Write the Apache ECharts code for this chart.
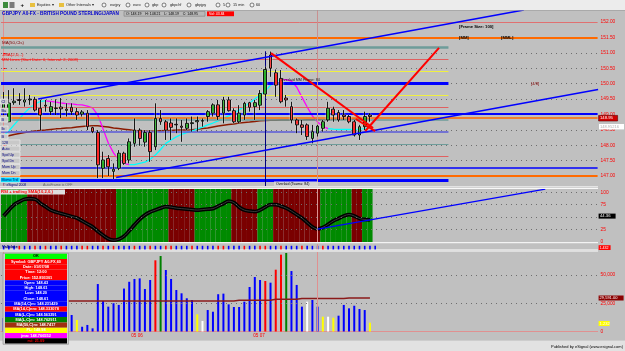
<!DOCTYPE html>
<html><head><meta charset="utf-8">
<script src="https://cdn.jsdelivr.net/npm/echarts@6/dist/echarts.min.js"></script>
<style>html,body{margin:0;padding:0;background:#c0c0c0;overflow:hidden}#c{width:625px;height:351px}</style>
</head><body><div id="c"></div><script>
// ---------- DATA ----------
const candleOpen = [149.14,148.76,149.38,149.48,149.40,149.47,149.49,149.20,149.30,149.09,
 149.19,149.24,149.17,149.23,149.09,149.01,149.04,148.57,148.41,147.25,
 147.57,147.15,147.25,147.74,147.52,148.06,148.49,148.10,148.41,147.95,
 148.87,148.76,148.72,148.68,148.62,148.55,148.70,148.76,148.78,148.93,
 149.04,149.31,149.04,149.47,149.12,148.76,148.98,149.38,149.25,149.30,
 149.66,150.93,150.35,150.17,149.53,149.25,148.82,148.66,148.66,148.22,
 148.39,148.55,148.82,149.17,149.06,148.98,148.93,148.76,148.33,148.60,148.98];
const candleClose = [149.47,149.37,149.43,149.45,149.47,149.50,149.14,148.98,149.27,149.25,
 149.21,149.18,149.13,149.09,148.98,149.08,148.60,148.44,147.36,147.52,
 147.30,147.22,147.74,147.41,148.11,148.49,148.22,148.41,147.79,148.87,
 148.76,148.49,148.58,148.66,148.58,148.71,148.73,148.80,148.80,149.09,
 149.31,148.93,149.47,149.12,148.76,149.04,149.36,149.23,149.38,149.68,
 150.46,150.50,149.95,149.41,149.47,148.82,148.66,148.58,148.28,148.44,
 148.62,148.76,149.20,148.98,148.82,148.93,148.76,148.33,148.60,148.93,148.93];
const candleLow = [148.98,148.75,149.31,149.31,149.25,149.31,149.09,148.49,149.09,148.98,
 148.98,148.88,148.93,148.98,148.82,148.93,148.49,148.39,146.93,146.93,
 147.00,146.90,147.19,147.36,147.41,147.95,147.98,147.95,147.46,147.84,
 148.66,148.17,148.17,148.39,148.11,148.49,148.44,148.44,148.60,148.76,
 148.93,148.82,148.71,149.09,148.71,148.71,148.82,149.09,148.82,149.14,
 149.57,150.22,149.57,149.36,149.25,148.71,148.39,148.33,148.17,148.06,
 148.28,148.44,148.76,148.76,148.76,148.82,148.71,148.28,148.17,148.49,148.76];
const candleHigh = [149.73,149.79,149.85,149.69,149.85,149.63,149.57,149.47,149.47,149.41,
 149.49,149.53,149.36,149.36,149.21,149.14,149.14,148.60,148.49,147.79,
 147.68,147.41,147.84,147.79,148.22,148.87,148.55,148.49,148.49,149.36,
 149.14,148.82,148.87,148.87,148.82,148.87,148.93,148.93,148.87,149.14,
 149.36,149.47,149.57,149.57,149.20,149.30,149.41,149.41,149.47,149.79,
 150.55,151.04,150.46,150.44,149.63,149.41,148.87,148.82,148.71,148.66,
 148.66,148.82,149.41,149.25,149.14,149.14,148.98,148.82,148.66,149.09,149.04];
const ma50 = [148.28,148.31,148.35,148.38,148.41,148.44,148.46,148.48,148.49,148.51,
 148.53,148.54,148.56,148.57,148.59,148.61,148.62,148.63,148.63,148.61,
 148.59,148.56,148.54,148.52,148.50,148.48,148.46,148.45,148.45,148.46,
 148.47,148.48,148.48,148.49,148.49,148.49,148.50,148.52,148.54,148.56,
 148.59,148.62,148.65,148.67,148.69,148.72,148.74,148.75,148.77,148.79,
 148.80,148.81,148.81,148.82,148.82,148.82,148.82,148.82,148.83,148.83,
 148.83,148.83,148.83,148.84,148.84,148.84,148.84,148.84,148.84,148.85,148.85];
const jma = [148.30,148.46,148.66,148.85,149.05,149.21,149.34,149.42,149.44,149.42,
 149.40,149.37,149.35,149.34,149.32,149.31,149.27,149.21,148.98,148.53,
 148.07,147.75,147.52,147.41,147.37,147.37,147.41,147.45,147.54,147.68,
 147.86,148.06,148.17,148.27,148.35,148.41,148.46,148.53,148.59,148.66,
 148.72,148.79,148.87,148.95,149.05,149.14,149.26,149.37,149.50,149.63,
 149.76,149.95,150.08,150.13,150.13,150.08,149.89,149.56,149.24,148.95,
 148.75,148.61,148.54,148.52,148.51,148.51,148.51,148.51,148.52,148.54,148.57];
const jmaTurns = [8, 24, 53, 62];
const rsi = [52,64,75,81,86,87,86,78,71,64,
 60,57,54,51,48,42,36,30,21,13,
 6,3,5,11,22,34,45,54,60,64,
 68,71,70,68,67,66,65,64,65,66,
 67,72,77,82,79,70,64,62,61,64,
 70,75,75,72,68,62,55,48,39,30,
 26,29,35,42,47,52,55,52,47,45,44];
const rsiBand = 'GGGGGRRRRRRRRRRRRRRRRRGGGGGGGGGGRRRRRGGGGGGGRRRRRGGGRRRRRRRRRGGGGGGRRGG'.split('');
const volume = [12000,9000,14000,8000,11000,9000,16000,21000,12000,10000,
 9000,13000,11000,14600,10200,4200,5800,2800,42000,27000,
 22000,25000,23500,38000,44000,46500,47000,37600,45600,63000,
 66800,54400,46500,36700,33800,29400,27900,15200,9300,19000,
 17500,33000,33500,24000,21700,21700,26400,39400,48200,45600,
 44700,43200,54700,68000,69500,53500,41200,22000,26400,27900,
 22000,13100,13100,12200,14000,23500,20500,22800,19900,19000,7800];
const volumeColorKey = 'bbbbbbbbbbbbbbybbbbbbbbbbbbbbrgbbbbbbywbbbbbbbbbbbrbrrgbbbwbbywybbbbbby'.split('');
const volumeMA = [27000,27000,27000,27000,27000,27000,27000,27000,27000,27000,
 27000,27000,27000,27000,27000,27000,27000,27000,27000,27000,
 27000,27000,27000,27000,27000,27000,27000,27000,27000,27000,
 27000,27000,27000,27000,27000,27000,27000,27000,27000,27000,
 27000,27000,27000,27000,27000,27700,27700,27700,27700,27700,
 27700,27700,28500,28500,28500,28500,28500,29200,29200,29200,
 29200,29200,29200,29200,29200,29200,29600,29600,29600,29600,29600];
const validateKey = 'bbbrbbrbrbbrbbbrrbbrbrbbbrbbrbbrrbbbrbbbbrrbbbrbbrrbbrbbbrbbbrbbbbbbbbbb'.split('');
const mmLevels = [151.171875,150.78125,150.390625,150,149.609375,149.21875,148.828125,148.4375,148.046875,147.65625,147.265625,146.875];
const mmNames = ['+3/8','+2/8','+1/8','8/8','7/8','6/8','5/8','4/8','3/8','2/8','1/8','0/8'];
const mmValueText = ['151.171875','150.78125','150.390625','150.00','149.609375','149.21875','148.828125','148.4375','148.046875','147.65625','147.265625','146.875'];
const fullLevels = [152, 151.5, 149.02, 148.90, 147.265625, 147];
const priceTicks = [147,147.5,148,148.5,149,149.5,150,150.5,151,151.5,152];
const rsiTicks = [0,25,50,75,100];
const volTicks = [0,25000,50000];
const dateTickPos = [25.5, 48.8];
const dateTickText = ['05 06','05 07'];
// trendlines: [candle index, price]
const upperChannel = [[6.6,149.50],[99.4,152.39]];
const lowerChannel = [[21.5,146.95],[113.6,149.81]];
const redLineA = [[51.1,150.99],[70.6,148.56]];
const redLineB = [[67.3,148.85],[71.0,148.46]];
const redLineC = [[69.1,148.46],[83.2,151.16]];
const rsiTrend = [[60,25.5],[103.5,106.5]];
const hiLoMarks = [[51,151.0,'H'],[22,147.02,'L']];
const markerBar = 50, cursorBar = 60;

// ---------- STYLE / LAYOUT ----------
const FONT = '"Liberation Sans", Arial, sans-serif';
const SLOTS = 114;
const cats = Array.from({length: SLOTS}, (_, i) => String(i));
const GL = 1, GW = 596.6;
const mmColors = ['#6e9c9a','#e06060','#f0f040','#0000ff','#f0f040','#e06060','#6e9c9a','#5a5ad8','#6e9c9a','#e06060','#f0f040','#0000ff'];
const mmWidths = [2.5,1,1,3,1,1,1.5,1.5,1.2,1,1,3];
const fullColors = ['#e07070','#ff6a00','#0000ff','#ff6a00','#0000ff','#ff6a00'];
const fullWidths = [1,2,2,1.5,1.5,2];
const volPalette = {b:'#0000ff', y:'#ffff00', r:'#ff0000', g:'#008000', w:'#ffffff'};

const ohlc = candleOpen.map((o, i) => [o, candleClose[i], candleLow[i], candleHigh[i]]);
const seg = i => jmaTurns.filter(t => t <= i).length;
const jmaUp = jma.map((v, i) => (seg(i) % 2 === 0 || jmaTurns.includes(i)) ? v : null);
const jmaDown = jma.map((v, i) => (seg(i) % 2 === 1 || jmaTurns.includes(i)) ? v : null);

const noML = {symbol:['none','none'], silent:true, label:{show:false}, animation:false};
const dotted = {type:[1,4], color:'#6e6e6e', width:1};

const yLabel = (vals, fmt) => ({
  show:true, position:'right',
  axisLine:{show:true, lineStyle:{color:'#e09090'}},
  axisTick:{show:true, customValues: vals, length:2, lineStyle:{color:'#ff0000'}},
  axisLabel:{show:true, customValues: vals, formatter: fmt, color:'#ff0000', fontSize:4.8, fontFamily:FONT, margin:3},
  splitLine:{show:false}
});

const option = {
  animation:false,
  backgroundColor:'#c0c0c0',
  grid:[
    {left:GL, top:10, width:GW, height:176},
    {left:GL, top:189, width:GW, height:53},
    {left:GL, top:244, width:GW, height:6},
    {left:GL, top:252, width:GW, height:79.5}
  ],
  xAxis:[
    {type:'category', gridIndex:0, position:'bottom', data:cats, show:false},
    {type:'category', gridIndex:1, position:'bottom', data:cats, show:false},
    {type:'category', gridIndex:2, position:'bottom', data:cats, show:false},
    {type:'category', gridIndex:3, position:'top', data:cats, show:false},
    {type:'value', gridIndex:0, position:'top', min:-0.5, max:SLOTS-0.5, show:false},
    {type:'value', gridIndex:1, position:'top', min:-0.5, max:SLOTS-0.5, show:false},
    {type:'value', gridIndex:2, position:'top', min:-0.5, max:SLOTS-0.5, show:false},
    {type:'value', gridIndex:3, position:'bottom', min:-0.5, max:SLOTS-0.5, show:true,
      axisLine:{show:true, lineStyle:{color:'#e09090'}}, axisTick:{show:false}, splitLine:{show:false},
      axisLabel:{customValues: dateTickPos, color:'#ff0000', fontSize:4.6, fontFamily:FONT, margin:2,
        formatter: v => { let k = 0; dateTickPos.forEach((p, j) => { if (Math.abs(p - v) < Math.abs(dateTickPos[k] - v)) k = j; }); return dateTickText[k]; }}}
  ],
  yAxis:[
    Object.assign({type:'value', gridIndex:0, min:146.675, max:152.39}, yLabel(priceTicks, v => v.toFixed(2))),
    Object.assign({type:'value', gridIndex:1, min:-0.6, max:106.7}, yLabel(rsiTicks, v => String(v))),
    {type:'value', gridIndex:1, position:'left', min:0, max:1, show:false},
    {type:'value', gridIndex:2, min:0, max:1, show:false},
    Object.assign({type:'value', gridIndex:3, min:0, max:70350}, yLabel(volTicks, v => v.toLocaleString('en-US')))
  ],
  series:[
    {type:'line', xAxisIndex:4, yAxisIndex:0, data:[], z:1,
      markLine:Object.assign({lineStyle:dotted, data: priceTicks.map(v => ({yAxis:v}))}, noML)},
    {type:'line', xAxisIndex:4, yAxisIndex:0, data:[], z:2,
      markLine:Object.assign({data: mmLevels.map((v, i) => [
        {coord:[-0.5, v], lineStyle:{color:mmColors[i], width:mmWidths[i], type:'solid'}}, {coord:[85, v]}])}, noML)},
    {type:'line', xAxisIndex:4, yAxisIndex:0, data:[], z:2,
      markLine:Object.assign({data: fullLevels.map((v, i) => ({yAxis:v, lineStyle:{color:fullColors[i], width:fullWidths[i], type:'solid'}}))}, noML)},
    {type:'line', xAxisIndex:4, yAxisIndex:0, data:[], z:3,
      markLine:Object.assign({data:[
        {xAxis:cursorBar, lineStyle:{color:'#c89090', width:1, type:'solid'}},
        [{coord:[markerBar, 151.05], lineStyle:{color:'#000080', width:1, type:'solid'}}, {coord:[markerBar, 146.675]}]
      ]}, noML)},
    {type:'line', xAxisIndex:0, yAxisIndex:0, data:ma50, symbol:'none', z:3, lineStyle:{color:'#8b1a00', width:1.5}},
    {type:'line', xAxisIndex:0, yAxisIndex:0, data:jmaUp, symbol:'none', z:3, lineStyle:{color:'#00ffff', width:1.3}},
    {type:'line', xAxisIndex:0, yAxisIndex:0, data:jmaDown, symbol:'none', z:3, lineStyle:{color:'#ff00ff', width:1.3}},
    {type:'candlestick', xAxisIndex:0, yAxisIndex:0, data:ohlc, barWidth:3.2, z:5,
      itemStyle:{color:'#00a000', color0:'#ff0000', borderColor:'#000000', borderColor0:'#000000', borderWidth:0.9,
        shadowColor:'rgba(255,255,255,0.9)', shadowBlur:1.5}},
    {type:'line', xAxisIndex:4, yAxisIndex:0, data:upperChannel, symbol:'none', z:6, lineStyle:{color:'#0000ff', width:1.6}},
    {type:'line', xAxisIndex:4, yAxisIndex:0, data:lowerChannel, symbol:'none', z:6, lineStyle:{color:'#0000ff', width:1.6}},
    {type:'line', xAxisIndex:4, yAxisIndex:0, data:redLineA, symbol:'none', z:6, lineStyle:{color:'#ff0000', width:2}},
    {type:'line', xAxisIndex:4, yAxisIndex:0, data:redLineB, symbol:'none', z:6, lineStyle:{color:'#ff0000', width:2}},
    {type:'line', xAxisIndex:4, yAxisIndex:0, data:redLineC, symbol:'none', z:6, lineStyle:{color:'#ff0000', width:2}},
    {type:'scatter', xAxisIndex:4, yAxisIndex:0, symbolSize:1, itemStyle:{opacity:0}, z:7,
      data: mmLevels.map(v => [87.1, v]),
      label:{show:true, position:'right', distance:0, formatter: p => mmNames[p.dataIndex], color:'#101010', fontSize:4.4, fontFamily:FONT, fontWeight:'bold'}},
    {type:'scatter', xAxisIndex:4, yAxisIndex:0, symbolSize:1, itemStyle:{opacity:0}, z:7,
      data: mmLevels.map(v => [92.1, v]),
      label:{show:true, position:'right', distance:0, formatter: p => mmValueText[p.dataIndex], color:'#2a2a80', fontSize:4.4, fontFamily:FONT}},
    {type:'scatter', xAxisIndex:4, yAxisIndex:0, symbolSize:1, itemStyle:{opacity:0}, z:7,
      data: hiLoMarks.map(m => [m[0], m[1]]),
      label:{show:true, position:'inside', formatter: p => hiLoMarks[p.dataIndex][2], color:'#000', fontSize:4.6, fontFamily:FONT, fontWeight:'bold'}},
    {type:'bar', xAxisIndex:1, yAxisIndex:2, barCategoryGap:'0%', barWidth:'100%', z:1,
      data: rsiBand.map(c => ({value:1, itemStyle:{color: c === 'G' ? '#008a00' : '#7a0000'}}))},
    {type:'line', xAxisIndex:5, yAxisIndex:1, data:[], z:2,
      markLine:Object.assign({lineStyle:dotted, data:[25,50,75,100].map(v => ({yAxis:v}))}, noML)},
    {type:'line', xAxisIndex:5, yAxisIndex:1, data:[], z:3,
      markLine:Object.assign({data:[{xAxis:cursorBar, lineStyle:{color:'#e09090', width:1, type:'solid'}}]}, noML)},
    {type:'line', xAxisIndex:1, yAxisIndex:1, data:rsi, symbol:'none', smooth:0.4, z:4, lineStyle:{color:'#000000', width:3.8}},
    {type:'line', xAxisIndex:1, yAxisIndex:1, data:rsi, symbol:'none', smooth:0.4, z:5, lineStyle:{color:'#5a5a5a', width:0.6}},
    {type:'line', xAxisIndex:5, yAxisIndex:1, data:rsiTrend, symbol:'none', z:6, lineStyle:{color:'#0000ff', width:1.3}},
    {type:'bar', xAxisIndex:2, yAxisIndex:3, barWidth:1.6, z:3,
      data: validateKey.map(c => ({value:0.7, itemStyle:{color: c === 'r' ? '#ff0000' : '#0000ff'}}))},
    {type:'line', xAxisIndex:6, yAxisIndex:3, data:[], z:3,
      markLine:Object.assign({data:[{xAxis:cursorBar, lineStyle:{color:'#e09090', width:1, type:'solid'}}]}, noML)},
    {type:'line', xAxisIndex:7, yAxisIndex:4, data:[], z:1,
      markLine:Object.assign({lineStyle:dotted, data:[25000,50000].map(v => ({yAxis:v}))}, noML)},
    {type:'line', xAxisIndex:7, yAxisIndex:4, data:[], z:2,
      markLine:Object.assign({data:[{xAxis:cursorBar, lineStyle:{color:'#e09090', width:1, type:'solid'}}]}, noML)},
    {type:'bar', xAxisIndex:3, yAxisIndex:4, barWidth:2, z:3,
      data: volume.map((v, i) => ({value:v, itemStyle:{color: volPalette[volumeColorKey[i]]}}))},
    {type:'line', xAxisIndex:3, yAxisIndex:4, data:volumeMA, symbol:'none', z:4, lineStyle:{color:'#8b1a1a', width:1.4}}
  ],
  graphic:[]
};

// ---------- OVERLAY TEXT / UI ----------
function T(x, y, text, fill, size, weight, align, z) {
  return {type:'text', x:x, y:y, z:z || 60, silent:true,
    style:{text:text, fill:fill, font:(weight || 'normal') + ' ' + size + 'px ' + FONT, textAlign:align || 'left', textVerticalAlign:'middle', verticalAlign:'middle'}};
}
function R(x, y, w, h, fill, stroke, z) {
  return {type:'rect', z:z || 50, silent:true, shape:{x:x, y:y, width:w, height:h}, style:{fill:fill, stroke:stroke || null, lineWidth:stroke ? 0.6 : 0}};
}
function L(x1, y1, x2, y2, stroke, w, z) {
  return {type:'line', z:z || 40, silent:true, shape:{x1:x1, y1:y1, x2:x2, y2:y2}, style:{stroke:stroke, lineWidth:w || 1}};
}
function C(cx, cy) {
  return {type:'circle', z:55, silent:true, shape:{cx:cx, cy:cy, r:2}, style:{fill:'#f4f4f4', stroke:'#303030', lineWidth:0.6}};
}
const g = [];
g.push(R(0,0,625,10,'#ececec'), L(0,10.3,625,10.3,'#9c9c9c',0.8));
g.push(R(3,2,5,6,'#3c8a3c'), R(9.5,2,5,6,'#7a7a7a'), T(20.5,5,'+','#000',6,'bold'));
g.push(R(30,3,5,4,'#e8c040'), T(37,5,'Equities ▾','#202020',3.8));
g.push(R(59,3,5,4,'#e8c040'), T(66,5,'Other Intervals ▾','#202020',3.8));
[[104,110,'eurjpy'],[128,133,'euro'],[147,152,'gbp'],[164,170,'gbpchf'],[189,195,'gbpjpy'],[218,223,'5'],[228,233,'15 min'],[252,256,'60']]
  .forEach(t => { g.push(C(t[0],5), T(t[1],5,t[2],'#202020',3.8)); });
g.push(T(2,13.8,'GBPJPY A0-FX - BRITISH POUND STERLING/JAPAN','#0000cc',4.7,'bold'));
g.push(R(124,11.4,81,4.8,'#b8b8b8','#7c7c7c'), T(126,13.8,'O: 148.19    H: 148.21    L: 148.19    C: 148.95','#000',3.5));
g.push(R(207,11.4,27,4.8,'#ff0000'), T(209,13.8,'Vol: 43.84','#ffffff',3.5));
g.push(T(2,43,'MA(50,Cls)','#800000',4.4), T(2,54.3,'JMA(2,0,..)','#ff0000',4.4), T(2,60,'MM Lines (Start Date: 0, Interval: 2, 2008)','#ff0000',4.1));
g.push(T(459,26.5,'[Frame Size: 100]','#000',4.2,'bold'), T(459,38,'[MM]','#000',4.2,'bold'), T(501,38,'[MML]','#000',4.2,'bold'), T(531,83.6,'[4/8]','#800000',4.2));
g.push(T(281,80,'Overlaid MM Frame: 84','#202020',3.7));
[['Cl',101.5],['Ba',110.5],['B',119.5],['Ib',128.5],['B',136.5]].forEach(b => { g.push(R(0.5,b[1]-2.5,7.5,5,'#c8c8c8','#f4f4f4',45), T(1.5,b[1],b[0],'#000080',3.8,'normal','left',46)); });
[['128',142.5],['Auto',148.6],['Spd Up',154.7],['Spd Dn',160.8],['Mom Up',167],['Mom Dn',173.2]].forEach(b => { g.push(R(0.5,b[1]-2.6,19.5,5.2,'#c8c8c8','#f4f4f4',45), T(2,b[1],b[0],'#000080',3.6,'normal','left',46)); });
g.push(R(0.5,177.2,19.5,5.2,'#00d8f8','#f4f4f4',45), T(1.5,179.8,'Momo Trd','#000080',3.6,'normal','left',46));
g.push(T(3,185,'© eSignal 2008','#000080',3.4), T(43,184.6,'AutoFrame is OFF','#6a6a6a',3.6));
g.push(R(274,181.6,44,4.6,'#d4d4d4'), T(276,183.9,'Overlaid (Tsama: 84)','#000',3.6));
g.push(L(0,186.8,598,186.8,'#f2f2f2',1), L(0,188.4,598,188.4,'#ffffff',1), L(0,242.7,598,242.7,'#ffffff',1), L(0,250,598,250,'#ffffff',1), L(0,251.5,598,251.5,'#e6e6e6',0.8));
g.push(R(0,189.6,65,4.8,'#dedede'), T(1,192,'RSI + trailing SMA(10,2,0,)','#ff0000',4.2,'bold'));
g.push(R(598.6,213.6,17,5,'#000000'), T(600,216.1,'44.36','#ffffff',4.2));
g.push(T(2,247,'Validate','#000080',4.2,'bold'));
g.push(R(598.6,245.2,12,4.8,'#ff0000'), T(599.6,247.6,'1.432','#ffffff',3.6));
g.push(R(598.6,115.4,19,5.6,'#d00000','#600000'), T(600,118.3,'148.95','#ffffff',4.2));
g.push(R(599,124,25,5.4,'#ffffff'), T(600,126.8,'148.95216','#b0b0b0',4));
g.push(R(598.6,295.5,25,5,'#8b0000'), T(599.6,298,'29,591.00','#ffffff',4));
g.push(R(598.6,321,11,5,'#ffff00'), T(599.6,323.5,'1.232','#ffffff',4));
g.push(R(3,253.3,65.5,91,'#d0d0d0','#8c8c8c',70));
const infoRows = [
  ['OK','#00ff00','#000'],
  ['Symbol: GBPJPY A0-FX,60','#ff0000','#fff'],
  ['Date: 01/07/08','#ff0000','#fff'],
  ['Time: 12:00','#ff0000','#fff'],
  ['Price: 152.893301','#ff0000','#fff'],
  ['Open: 148.43','#0000ff','#fff'],
  ['High: 148.61','#0000ff','#fff'],
  ['Low: 148.20','#0000ff','#fff'],
  ['Close: 148.61','#0000ff','#fff'],
  ['MA(14,C)m: 148.231429','#0000ff','#fff'],
  ['MA(14,C)nm: 148.333078','#ff0000','#fff'],
  ['MA(L,C)m: 148.563291','#0000ff','#fff'],
  ['MA(L,C)m: 148.762911','#008000','#fff'],
  ['MA(50,C)m: 148.7417','#a03010','#fff'],
  ['PL: 148.98','#ffff00','#ffffff'],
  ['jma: 148.766552','#ff00ff','#fff'],
  ['rsi: 21.09','#000000','#ff0000']
];
infoRows.forEach((r, i) => {
  const cy = 256.4 + i * 5.28;
  g.push(R(5, cy - 2.64, 62, 5.28, r[1], null, 71), T(36, cy, r[0], r[2], 3.9, 'bold', 'center', 72));
});
g.push(R(0,341,625,10,'#e2e2e2'), L(0,341.3,625,341.3,'#ffffff',1), T(623,347,'Published by eSignal (www.esignal.com)','#000',4,'normal','right'));
option.graphic = g;

const chart = echarts.init(document.getElementById('c'), null, {renderer:'canvas', width:625, height:351});
chart.setOption(option);
</script></body></html>
